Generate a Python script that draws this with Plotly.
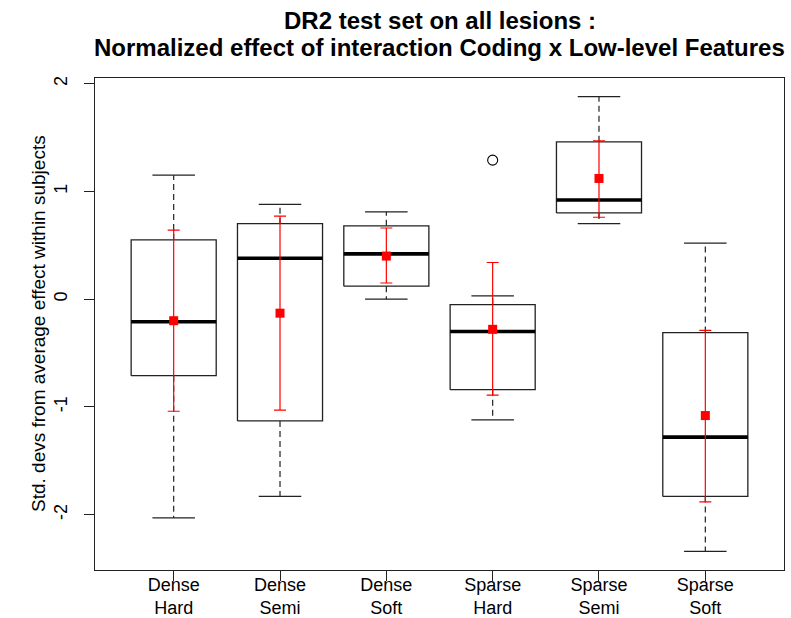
import plotly.graph_objects as go

# ---- data ----
categories = ["Dense<br>Hard", "Dense<br>Semi", "Dense<br>Soft",
              "Sparse<br>Hard", "Sparse<br>Semi", "Sparse<br>Soft"]
lower_whisker = [-2.03, -1.83, 0.00, -1.12, 0.70, -2.34]
q1 = [-0.71, -1.13, 0.12, -0.84, 0.80, -1.83]
median = [-0.21, 0.38, 0.42, -0.30, 0.92, -1.28]
q3 = [0.55, 0.70, 0.68, -0.05, 1.46, -0.31]
upper_whisker = [1.15, 0.88, 0.81, 0.03, 1.88, 0.52]
outlier_group = [4]          # 1-based group index
outlier_value = [1.29]
means = [-0.20, -0.13, 0.40, -0.28, 1.12, -1.08]
ci_high = [0.64, 0.77, 0.66, 0.34, 1.47, -0.29]
ci_low = [-1.04, -1.03, 0.15, -0.89, 0.76, -1.88]
y_ticks = [-2, -1, 0, 1, 2]
title_lines = ["DR2 test set on all lesions :",
               "Normalized effect of interaction Coding x Low-level Features"]
y_title = "Std. devs from average effect within subjects"

# ---- style ----
BOX_HW = 0.4
STAPLE_HW = 0.2
FONT = "Liberation Sans, Arial, sans-serif"
positions = list(range(1, len(categories) + 1))

def segs(pairs):
    xs, ys = [], []
    for (x0, y0, x1, y1) in pairs:
        xs += [x0, x1, None]
        ys += [y0, y1, None]
    return xs, ys

fig = go.Figure()

# whiskers (dashed)
wx, wy = segs([(p, q3[i], p, upper_whisker[i]) for i, p in enumerate(positions)] +
              [(p, q1[i], p, lower_whisker[i]) for i, p in enumerate(positions)])
fig.add_trace(go.Scatter(x=wx, y=wy, mode="lines",
                         line=dict(color="#222", width=1.2, dash="6px,4px"),
                         hoverinfo="skip", showlegend=False))

# staples
sx, sy = segs([(p - STAPLE_HW, upper_whisker[i], p + STAPLE_HW, upper_whisker[i]) for i, p in enumerate(positions)] +
              [(p - STAPLE_HW, lower_whisker[i], p + STAPLE_HW, lower_whisker[i]) for i, p in enumerate(positions)])
fig.add_trace(go.Scatter(x=sx, y=sy, mode="lines",
                         line=dict(color="#222", width=1.3),
                         hoverinfo="skip", showlegend=False))

# boxes
bx, by = [], []
for i, p in enumerate(positions):
    bx += [p - BOX_HW, p + BOX_HW, p + BOX_HW, p - BOX_HW, p - BOX_HW, None]
    by += [q1[i], q1[i], q3[i], q3[i], q1[i], None]
fig.add_trace(go.Scatter(x=bx, y=by, mode="lines",
                         line=dict(color="#222", width=1.3),
                         hoverinfo="skip", showlegend=False))

# medians
mx, my = segs([(p - BOX_HW, median[i], p + BOX_HW, median[i]) for i, p in enumerate(positions)])
fig.add_trace(go.Scatter(x=mx, y=my, mode="lines",
                         line=dict(color="black", width=3.6),
                         hoverinfo="skip", showlegend=False))

# outliers
fig.add_trace(go.Scatter(x=outlier_group, y=outlier_value, mode="markers",
                         marker=dict(symbol="circle-open", size=10, color="black",
                                     line=dict(width=1.1)),
                         showlegend=False))

# means with CI
fig.add_trace(go.Scatter(
    x=positions, y=means, mode="markers",
    marker=dict(symbol="square", size=9, color="red"),
    error_y=dict(type="data", symmetric=False,
                 array=[h - m for h, m in zip(ci_high, means)],
                 arrayminus=[m - l for m, l in zip(means, ci_low)],
                 color="red", thickness=1.2, width=6),
    showlegend=False))

PLOT_T, PLOT_B, PLOT_L, PLOT_R = 78, 570, 95, 784
plot_h = PLOT_B - PLOT_T
plot_w = PLOT_R - PLOT_L

annotations = [
    dict(text="<b>%s</b>" % title_lines[0], xref="paper", yref="paper",
         x=0.5, y=1 + (PLOT_T - 21) / plot_h, xanchor="center", yanchor="middle",
         showarrow=False, font=dict(family=FONT, size=24, color="black")),
    dict(text="<b>%s</b>" % title_lines[1], xref="paper", yref="paper",
         x=0.5, y=1 + (PLOT_T - 48) / plot_h, xanchor="center", yanchor="middle",
         showarrow=False, font=dict(family=FONT, size=24, color="black")),
    dict(text=y_title, xref="paper", yref="paper",
         x=(38 - PLOT_L) / plot_w, y=0.5, xanchor="center", yanchor="middle",
         textangle=-90, showarrow=False,
         font=dict(family=FONT, size=19, color="black")),
]

fig.update_layout(
    width=791, height=618,
    margin=dict(l=PLOT_L, r=791 - PLOT_R, t=PLOT_T, b=618 - PLOT_B, autoexpand=False),
    paper_bgcolor="white", plot_bgcolor="white",
    font=dict(family=FONT, color="black"),
    annotations=annotations,
)
fig.update_xaxes(range=[0.26, 6.74], tickvals=positions, ticktext=categories,
                 showline=True, linecolor="#222", linewidth=1.3, mirror=True,
                 ticks="outside", ticklen=10, tickcolor="#222", tickwidth=1.2,
                 ticklabelstandoff=-12,
                 showgrid=False, zeroline=False, automargin=False,
                 tickfont=dict(size=18, family=FONT))
fig.update_yaxes(range=[-2.513, 2.052], tickvals=y_ticks, ticktext=[str(v) for v in y_ticks],
                 showline=True, linecolor="#222", linewidth=1.3, mirror=True,
                 ticks="outside", ticklen=10, tickcolor="#222", tickwidth=1.2,
                 ticklabelstandoff=10,
                 tickangle=-90, showgrid=False, zeroline=False, automargin=False,
                 tickfont=dict(size=18, family=FONT))

fig.write_html("out.html",
               config={"displayModeBar": False},
               post_script="document.body.style.margin='0';document.body.style.overflow='hidden';")
